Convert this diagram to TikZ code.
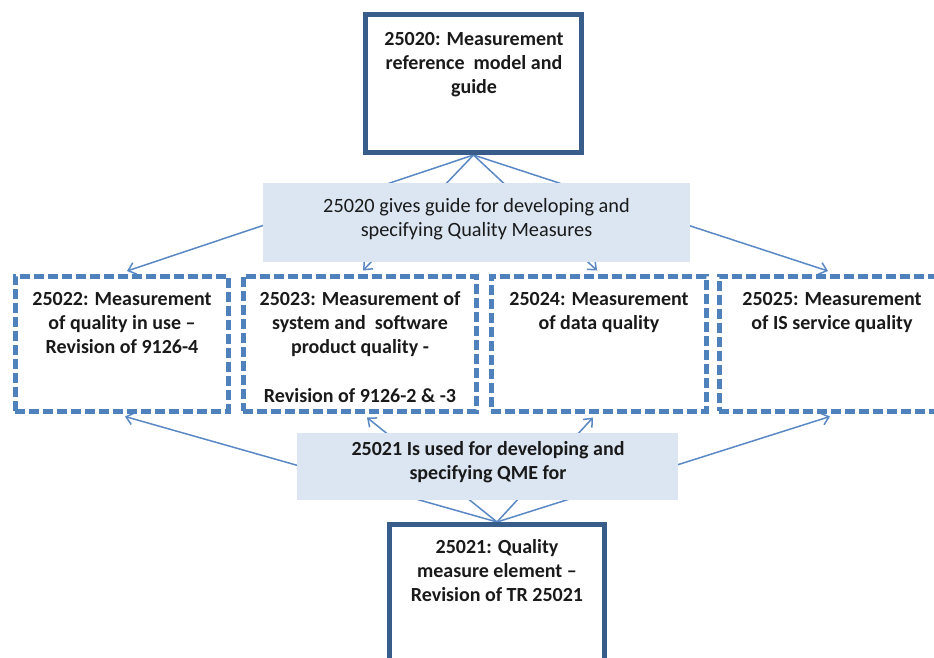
\documentclass[tikz,border=0pt]{standalone}
\usepackage{fontspec}
\setmainfont{Carlito}
\usetikzlibrary{arrows.meta,backgrounds}
\definecolor{frameblue}{HTML}{385D8A}
\definecolor{dashblue}{HTML}{4F81BD}
\definecolor{linkblue}{HTML}{5A88C4}
\definecolor{notefill}{HTML}{DCE6F2}
\definecolor{inktext}{HTML}{1A1A1A}

\begin{document}
\begin{tikzpicture}[x=1pt,y=-1pt,
  mainbox/.style={draw=frameblue, line width=5pt, fill=white, inner sep=0pt},
  partbox/.style={draw=dashblue, line width=5pt, dash pattern=on 10pt off 4pt, fill=white, inner sep=0pt},
  notebox/.style={fill=notefill, inner sep=0pt},
  % texts are placed by the baseline of their last line
  boxtext/.style={text=inktext, font=\bfseries\fontsize{20}{24.3}\selectfont, align=center, anchor=base, inner sep=0pt},
  notetext/.style={text=inktext, font=\fontsize{20.3}{24}\selectfont, align=center, anchor=base, inner sep=0pt},
  link/.style={draw=linkblue, line width=1.5pt, -{Straight Barb[length=7pt,width=12pt,line width=1.5pt]}}
]
\useasboundingbox (0,0) rectangle (934,657);
\clip (0,0) rectangle (934,657);

% main standards
\node[mainbox, minimum width=216pt, minimum height=138pt] (ref) at (473.5,83.5) {};
\node[boxtext] (reftxt) at (474,93.6) {25020: Measurement\\reference\ \ model and\\guide};

\node[mainbox, minimum width=215pt, minimum height=176pt] (qme) at (497,612.5) {};
\node[boxtext] (qmetxt) at (497,601.6) {25021: Quality\\measure element --\\Revision of TR 25021};

% explanatory notes
\node[notebox, minimum width=427pt, minimum height=79pt] (guide) at (476.5,222.5) {};
\node[notetext] (guidetxt) at (476.5,236) {25020 gives guide for developing and\\specifying Quality Measures};

\node[notebox, minimum width=381pt, minimum height=67pt] (uses) at (487.5,466.5) {};
\node[boxtext] (usestxt) at (488,479.3) {25021 Is used for developing and\\specifying QME for};

% measurement divisions
\node[partbox, minimum width=213pt, minimum height=135pt] (b22) at (121.5,343.5) {};
\node[boxtext] (b22txt) at (122,353.6) {25022: Measurement\\of quality in use --\\Revision of 9126-4};

\node[partbox, minimum width=233pt, minimum height=135pt] (b23) at (359.5,343.5) {};
\node[boxtext] (b23txt) at (360,402.2) {25023: Measurement of\\system and\ \ software\\product quality -\\[24.3pt]Revision of 9126-2 \& -3};

\node[partbox, minimum width=215pt, minimum height=135pt] (b24) at (598.5,343.5) {};
\node[boxtext] (b24txt) at (599,329.3) {25024: Measurement\\of data quality};

\node[partbox, minimum width=231pt, minimum height=135pt] (b25) at (834.5,343.5) {};
\node[boxtext] (b25txt) at (832,329.3) {25025: Measurement\\of IS service quality};

% connectors behind the boxes
\begin{pgfonlayer}{background}
  \draw[link] (ref.south) -- ([xshift=5.5pt,yshift=2.5pt]b22.north);
  \draw[link] (ref.south) -- ([xshift=3.5pt,yshift=3pt]b23.north);
  \draw[link] (ref.south) -- ([xshift=-1.5pt,yshift=3pt]b24.north);
  \draw[link] (ref.south) -- ([xshift=-6.5pt,yshift=2.5pt]b25.north);
  \draw[link] (qme.north) -- ([xshift=3.5pt,yshift=-3pt]b22.south);
  \draw[link] (qme.north) -- ([xshift=7.5pt,yshift=-4pt]b23.south);
  \draw[link] (qme.north) -- ([xshift=-5.5pt,yshift=-4pt]b24.south);
  \draw[link] (qme.north) -- ([xshift=-4.5pt,yshift=-3pt]b25.south);
\end{pgfonlayer}
\end{tikzpicture}
\end{document}
